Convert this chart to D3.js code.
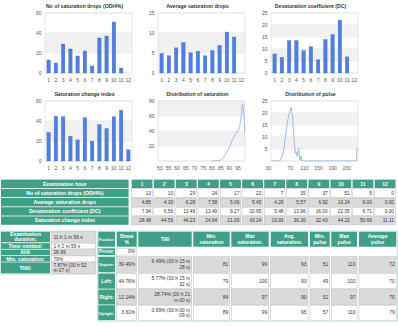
<!DOCTYPE html>
<html><head><meta charset="utf-8">
<script src="https://cdn.jsdelivr.net/npm/d3@7"></script>
<style>
html,body{margin:0;padding:0;background:#fff;overflow:hidden;}
svg{display:block;font-family:"Liberation Sans",Arial,sans-serif;}
</style></head><body>
<svg id="c" width="398" height="327"></svg>
<script>
// ---------------- DATA ----------------
const hours = ["1","2","3","4","5","6","7","8","9","10","11","12"];
const odi = [13,10,29,24,17,22,7,35,37,51,5,0];
const avgDrops = [4.85,4.30,6.28,7.58,5.06,5.45,4.29,5.57,6.92,10.24,9.00,0.00];
const dc = [7.94,6.56,13.49,13.49,9.27,10.95,5.48,13.96,16.00,22.05,6.71,0.00];
const sci = [28.48,44.56,44.23,24.64,21.09,43.24,19.93,36.30,32.43,44.22,50.68,11.11];

const satTicks = [53,55,60,65,70,75,83,85,90,95];
const satDist = [[83,0],[84,0.3],[85,1],[86,2.5],[87,5],[88,8.5],[89,12.5],[90,17],[91,22.5],[92,28],[93,33],[94,36.5],[95,40],[95.8,43],[96.5,50],[97,58],[97.4,68],[97.8,76],[98.1,74],[98.5,64],[98.9,50],[99.2,36]];
const pulseTicks = [30,70,110,150,190,230];
const pulseDist = [[34,0],[52,0],[55.8,1.8],[58.9,4.6],[61.9,9.5],[65,15],[68.2,19.2],[71.7,21.3],[74.5,22.4],[76,20.5],[78.5,17.8],[80.3,12.5],[83,8],[85.9,3.2],[88.7,3.9],[91.5,1.8],[95.4,5.3],[98.2,0.4],[102.8,2],[104.7,0],[259,0],[260.5,5.5]];

const hourHeader = "Examination hour";
const rowLabels = ["No of saturation drops (ODI4%)","Average saturation drops","Desaturation coefficient (DC)","Saturation change index"];

const summaryLabels = [["Examination","duration:"],["Time omitted:"],["AHI:"],["Min. saturation:"],["TI90:"]];
const summaryValues = [["11 h 1 m 56 s"],["1 h 2 m 56 s"],["26.99"],["79%"],["7.87% (00 h 52","m 07 s)"]];

const posHeaders = [["Position:"],["Share","%"],["T90"],["Min.","saturation"],["Max","saturation."],["Avg.","saturation."],["Min.","pulse"],["Max","pulse"],["Average","pulse"]];
const positions = ["Prone:","Supine:","Left:","Right:","Upright:"];
const posShare = ["0%","39.49%","44.76%","12.14%","3.61%"];
const posT90 = [[],["6.49% (00 h 15 m","28 s)"],["5.77% (00 h 15 m","32 s)"],["28.74% (00 h 21","m 00 s)"],["0.69% (00 h 00 m","09 s)"]];
const posMinSat = ["","81","79","84","89"];
const posMaxSat = ["","99","100","97","99"];
const posAvgSat = ["","93","93","90","95"];
const posMinPulse = ["","51","49","52","57"];
const posMaxPulse = ["","110","102","97","110"];
const posAvgPulse = ["","72","70","70","79"];

// ---------------- STYLE ----------------
const TEAL = "#3f9f87";
const GRAY = "#dadada";
const CBORDER = "#bcbcbc";
const BAR = "#4f80e1";
const BARS = "#3b69c9";
const LINE = "#8db6e6";
const BAND = "#f1f1f1";
const GRID = "#e3e3e3";
const FRAME = "#d4d4d4";
const AX = "#555";

const svg = d3.select("#c");

function plotBack(g, y, ticks, x0, w) {
  for (let i = 0; i < ticks.length - 1; i++) {
    if (i % 2 === 1) {
      g.append("rect").attr("x", x0).attr("y", y(ticks[i+1])).attr("width", w)
        .attr("height", y(ticks[i]) - y(ticks[i+1])).attr("fill", BAND);
    }
  }
  g.selectAll("line.grid").data(ticks).join("line").attr("class","grid")
    .attr("x1", x0).attr("x2", x0 + w).attr("y1", d => y(d)).attr("y2", d => y(d))
    .attr("stroke", GRID).attr("stroke-width", 0.5);
}
function yAxis(g, y, labelTicks, x0) {
  const a = g.append("g").attr("transform", `translate(${x0},0)`)
    .call(d3.axisLeft(y).tickValues(labelTicks).tickSize(0).tickPadding(3.5));
  a.select(".domain").remove();
  a.selectAll("text").attr("font-size", 5).attr("fill", AX).attr("font-family", null);
}
function frameRect(g, x0, y0, w, h) {
  g.append("rect").attr("x", x0).attr("y", y0).attr("width", w).attr("height", h)
    .attr("fill", "none").attr("stroke", FRAME).attr("stroke-width", 0.5);
}
function title(g, t, x0, w, y0) {
  g.append("text").attr("x", x0 + w/2 - 4).attr("y", y0 - 5).attr("text-anchor","middle")
    .attr("font-size", 5.2).attr("font-weight","bold").attr("fill","#333").text(t);
}
function xAxisStyle(a) {
  a.select(".domain").remove();
  a.selectAll("text").attr("font-size", 5).attr("fill", AX).attr("font-family", null);
}

function barChart(cfg) {
  const {t, values, max, ticks, x0, y0, w, h} = cfg;
  const g = svg.append("g");
  const y = d3.scaleLinear().domain([0, max]).range([y0 + h, y0]);
  const x = d3.scaleBand().domain(hours).range([x0, x0 + w]).paddingInner(0.52).paddingOuter(0.26);
  plotBack(g, y, ticks, x0, w);
  frameRect(g, x0, y0, w, h);
  g.selectAll("rect.bar").data(values).join("rect").attr("class","bar")
    .attr("x", (d, i) => x(hours[i])).attr("y", d => y(d))
    .attr("width", x.bandwidth()).attr("height", d => y(0) - y(d))
    .attr("fill", BAR).attr("stroke", BARS).attr("stroke-width", 0.35);
  yAxis(g, y, ticks, x0);
  const a = g.append("g").attr("transform", `translate(0,${y0 + h})`)
    .call(d3.axisBottom(x).tickSize(0).tickPadding(5.2));
  xAxisStyle(a);
  title(g, t, x0, w, y0);
}

function lineChart(cfg) {
  const {t, data, x, xTicks, max, ticks, labelTicks, x0, y0, w, h, curve, id} = cfg;
  const g = svg.append("g");
  const y = d3.scaleLinear().domain([0, max]).range([y0 + h, y0]);
  plotBack(g, y, ticks, x0, w);
  frameRect(g, x0, y0, w, h);
  svg.append("clipPath").attr("id", id).append("rect")
    .attr("x", x0).attr("y", y0 - 1).attr("width", w).attr("height", h + 1.5);
  g.append("path").datum(data).attr("clip-path", `url(#${id})`)
    .attr("d", d3.line().x(d => x(d[0])).y(d => y(d[1])).curve(curve))
    .attr("fill", "none").attr("stroke", LINE).attr("stroke-width", 0.9);
  yAxis(g, y, labelTicks, x0);
  const a = g.append("g").attr("transform", `translate(0,${y0 + h})`)
    .call(d3.axisBottom(x).tickValues(xTicks).tickFormat(d3.format("d")).tickSize(0).tickPadding(5.2));
  xAxisStyle(a);
  title(g, t, x0, w, y0);
}

const PW = 87, PH = 60;
const colX = [45, 158, 271];
const rowY = [13, 101];

barChart({t: "No of saturation drops (ODI4%)", values: odi, max: 60, ticks: [0,20,40,60], x0: colX[0], y0: rowY[0], w: PW, h: PH});
barChart({t: "Average saturation drops", values: avgDrops, max: 15, ticks: [0,5,10,15], x0: colX[1], y0: rowY[0], w: PW, h: PH});
barChart({t: "Desaturation coefficient (DC)", values: dc, max: 25, ticks: [0,5,10,15,20,25], x0: colX[2], y0: rowY[0], w: PW, h: PH});
barChart({t: "Saturation change index", values: sci, max: 60, ticks: [0,20,40,60], x0: colX[0], y0: rowY[1], w: PW, h: PH});

const satStep = 8.71;
const satX = d3.scaleLinear().domain(satTicks).range(satTicks.map((d, i) => colX[1] + 1.2 + i * satStep));
lineChart({t: "Distribution of saturation", data: satDist, x: satX, xTicks: satTicks, max: 80,
  ticks: [0,20,40,60,80], labelTicks: [20,40,60,80], x0: colX[1], y0: rowY[1], w: PW, h: PH,
  curve: d3.curveMonotoneX, id: "clipSat"});

const pulseX = d3.scaleLinear().domain([30, 70, 230]).range([colX[2] - 3, colX[2] + 18.7, colX[2] + 75.3]);
lineChart({t: "Distribution of pulse", data: pulseDist, x: pulseX, xTicks: pulseTicks, max: 25,
  ticks: [0,5,10,15,20,25], labelTicks: [5,10,15,20,25], x0: colX[2], y0: rowY[1], w: PW, h: PH,
  curve: d3.curveLinear, id: "clipPulse"});

// ---------------- TABLES ----------------
function cell(g, x, y, w, h, fill, stroke, lines, o) {
  g.append("rect").attr("x", x).attr("y", y).attr("width", w).attr("height", h)
    .attr("fill", fill).attr("stroke", stroke || "none").attr("stroke-width", stroke ? 0.5 : 0);
  const fs = o.fs || 5, lh = o.lh || 5.7;
  const n = lines.length;
  const anchor = o.align === "right" ? "end" : o.align === "left" ? "start" : "middle";
  const tx = o.align === "right" ? x + w - 1.5 : o.align === "left" ? x + 1.8 : x + w / 2;
  lines.forEach((t, i) => {
    const by = y + h / 2 - (n - 1) * lh / 2 + i * lh + fs * 0.36;
    const el = g.append("text").attr("x", tx).attr("y", by).attr("text-anchor", anchor)
      .attr("font-size", fs).attr("font-weight", o.bold ? "bold" : "normal")
      .attr("fill", o.color || "#333").text(t);
    const maxW = w - 1.5;
    const len = el.node().getComputedTextLength();
    if (len > maxW) el.attr("font-size", fs * maxW / len);
  });
}

const tg = svg.append("g");
const fmt2 = d3.format(".2f");
const t1Rows = [odi.map(d => String(d)), avgDrops.map(fmt2), dc.map(fmt2), sci.map(fmt2)];
const t1Y = 179.6, t1Pitch = 9.2, t1H = 8.4;
const t1LabX = 1, t1LabW = 127.6, t1ColX = 131.7, t1ColPitch = 22.09, t1ColW = 20.8;
cell(tg, t1LabX, t1Y, t1LabW, t1H, TEAL, null, [hourHeader], {bold: true, color: "#fff", fs: 5.2});
hours.forEach((hh, i) => cell(tg, t1ColX + i * t1ColPitch, t1Y, t1ColW, t1H, TEAL, null, [hh], {bold: true, color: "#fff", fs: 5}));
rowLabels.forEach((lab, r) => {
  const yy = t1Y + (r + 1) * t1Pitch;
  cell(tg, t1LabX, yy, t1LabW, t1H, TEAL, null, [lab], {bold: true, color: "#fff", fs: 5.2});
  t1Rows[r].forEach((v, i) => cell(tg, t1ColX + i * t1ColPitch, yy, t1ColW, t1H, r % 2 === 0 ? "#fff" : GRAY, CBORDER, [v], {align: "right", fs: 4.8}));
});

// summary table
tg.append("rect").attr("x", 0.3).attr("y", 231).attr("width", 95.6).attr("height", 43.2)
  .attr("fill", "none").attr("stroke", "#a9dccf").attr("stroke-width", 0.6);
const sRows = [[231.7, 10.6], [243.2, 5.7], [249.6, 5.7], [256.0, 5.7], [262.4, 11]];
sRows.forEach(([yy, hh], r) => {
  cell(tg, 1, yy, 49, hh, TEAL, null, summaryLabels[r], {bold: true, color: "#fff", fs: 5.2, lh: 5.2});
  cell(tg, 51.6, yy, 43.6, hh, r % 2 === 0 ? GRAY : "#fff", CBORDER, summaryValues[r], {align: "left", fs: 4.9, lh: 5.2});
});

// position table
tg.append("rect").attr("x", 97.4).attr("y", 231).attr("width", 399.7 - 97.4 - 2.4).attr("height", 90.2)
  .attr("fill", "none").attr("stroke", "#a9dccf").attr("stroke-width", 0.6);
const pCols = [[98.3,16.7],[116.7,20],[138.3,53.4],[193.3,36.4],[231.3,37.4],[270.7,37.3],[310,19.7],[331.3,25.7],[359,37.3]];
const pRows = [[248.3,6.7],[256.7,15.6],[273.5,15.2],[289.5,15],[305.2,15]];
posHeaders.forEach((hd, c) => cell(tg, pCols[c][0], 231.7, pCols[c][1], 15, TEAL, null, hd, {bold: true, color: "#fff", fs: 5, lh: 5.7}));
const posCols = [posShare, null, posMinSat, posMaxSat, posAvgSat, posMinPulse, posMaxPulse, posAvgPulse];
positions.forEach((p, r) => {
  const [yy, hh] = pRows[r];
  const fill = r % 2 === 1 ? GRAY : "#fff";
  cell(tg, pCols[0][0], yy, pCols[0][1], hh, TEAL, null, [p], {bold: true, color: "#fff", fs: 5});
  cell(tg, pCols[1][0], yy, pCols[1][1], hh, fill, CBORDER, [posShare[r]], {align: "right", fs: 4.9});
  if (r === 0) {
    // Prone row: only share is given
    return;
  }
  cell(tg, pCols[2][0], yy, pCols[2][1], hh, fill, CBORDER, posT90[r], {align: "right", fs: 4.9, lh: 5.6});
  [posMinSat, posMaxSat, posAvgSat, posMinPulse, posMaxPulse, posAvgPulse].forEach((arr, k) => {
    cell(tg, pCols[k + 3][0], yy, pCols[k + 3][1], hh, fill, CBORDER, [arr[r]], {align: "right", fs: 4.9});
  });
});
</script>
</body></html>
